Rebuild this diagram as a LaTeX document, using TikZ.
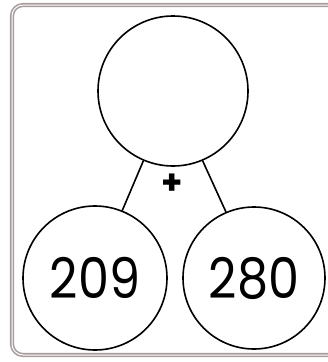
\documentclass[tikz,border=0pt]{standalone}
\usepackage{fontspec}
\setmainfont{Poppins}
\usetikzlibrary{positioning}
\definecolor{framegray}{RGB}{168,156,156}
\begin{document}
\begin{tikzpicture}[x=1pt, y=-1pt,
  bond/.style={circle, draw, line width=1.6pt, inner sep=0pt},
  num/.style={font=\fontsize{56}{56}\selectfont},
  link/.style={line width=1.6pt}]
\useasboundingbox (0,0) rectangle (328,362);
% frame
\draw[draw=framegray, line width=1.6pt, double=white, double distance=1pt, rounded corners=11pt]
  (12,5) rectangle (340,355);
% whole and parts
\node[bond, minimum size=150pt] (whole) at (173,91) {};
\node[bond, minimum size=144pt] (partA) at (95,278) {};
\node[bond, minimum size=142pt] (partB) at (254,278) {};
\node[num, xscale=0.88] (numA) at (partA.center) {209};
\node[num, xscale=0.88] (numB) at (partB.center) {280};
% links
\draw[link] (whole.247) -- (partA.68);
\draw[link] (whole.293) -- (partB.113);
% operation
\node[font=\fontsize{34}{34}\selectfont\bfseries] (plus) at (172,184) {+};
\end{tikzpicture}
\end{document}
